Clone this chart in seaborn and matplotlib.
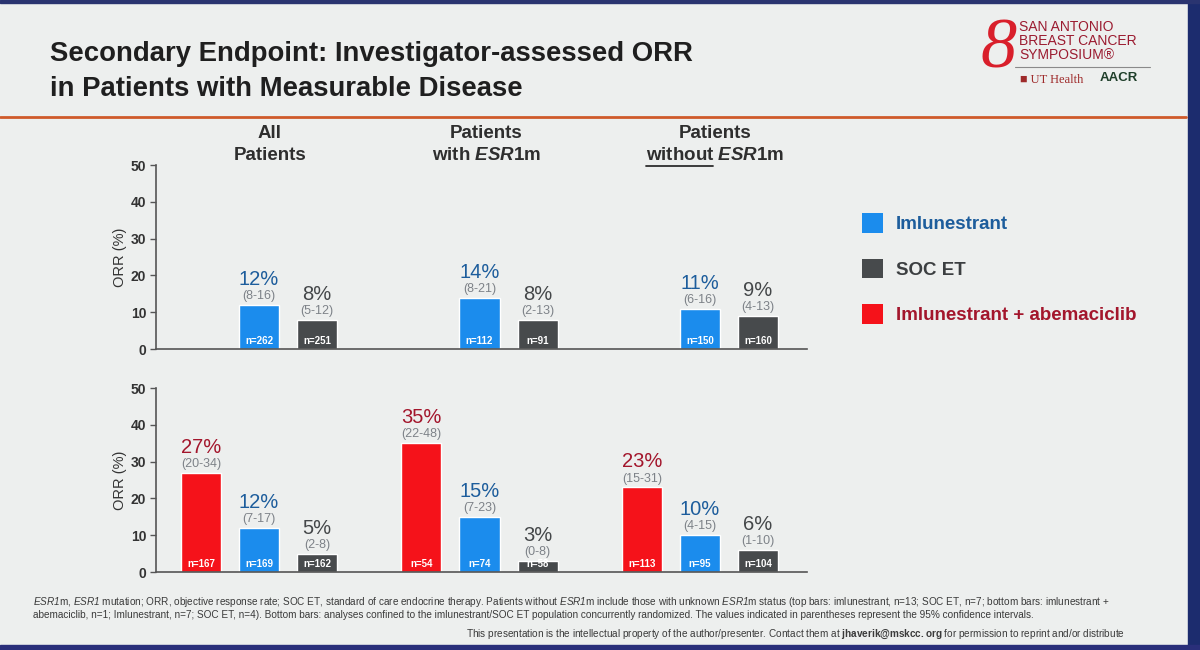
import numpy as np
import pandas as pd
import matplotlib.pyplot as plt
import matplotlib.transforms as mtransforms
import seaborn as sns
from matplotlib.patches import Patch, Rectangle
from matplotlib.colors import to_hex
from matplotlib.lines import Line2D

# ---- data ----
groups = ['All Patients', 'ESR1m', 'No ESR1m']
arms = ['Imlunestrant + abemaciclib', 'Imlunestrant', 'SOC ET']

top_group = ['All Patients', 'All Patients', 'ESR1m', 'ESR1m', 'No ESR1m', 'No ESR1m']
top_arm = ['Imlunestrant', 'SOC ET'] * 3
top_orr = [12, 8, 14, 8, 11, 9]
top_ci = ['(8-16)', '(5-12)', '(8-21)', '(2-13)', '(6-16)', '(4-13)']
top_n = [262, 251, 112, 91, 150, 160]

bot_group = ['All Patients'] * 3 + ['ESR1m'] * 3 + ['No ESR1m'] * 3
bot_arm = arms * 3
bot_orr = [27, 12, 5, 35, 15, 3, 23, 10, 6]
bot_ci = ['(20-34)', '(7-17)', '(2-8)', '(22-48)', '(7-23)', '(0-8)',
          '(15-31)', '(4-15)', '(1-10)']
bot_n = [167, 169, 162, 54, 74, 58, 113, 95, 104]

bar_colors = {'Imlunestrant + abemaciclib': '#f5121a', 'Imlunestrant': '#1b8ced',
              'SOC ET': '#474a4c'}
pct_colors = {'Imlunestrant + abemaciclib': '#a3162c', 'Imlunestrant': '#1d5d9c',
              'SOC ET': '#444749'}
ci_color = '#7d8288'
bg = '#edefee'

sns.set_style('white', {'axes.facecolor': bg, 'figure.facecolor': bg})
plt.rcParams['font.family'] = ['Liberation Sans', 'DejaVu Sans']
plt.rcParams['mathtext.fontset'] = 'custom'
plt.rcParams['mathtext.it'] = 'Liberation Sans:italic:bold'
plt.rcParams['mathtext.rm'] = 'Liberation Sans:bold'
plt.rcParams['mathtext.bf'] = 'Liberation Sans:bold'
plt.rcParams['mathtext.sf'] = 'Liberation Sans:italic'

top_df = pd.DataFrame({'group': top_group, 'arm': top_arm, 'orr': top_orr,
                       'ci': top_ci, 'n': top_n})
bot_df = pd.DataFrame({'group': bot_group, 'arm': bot_arm, 'orr': bot_orr,
                       'ci': bot_ci, 'n': bot_n})

fig = plt.figure(figsize=(12, 6.5), dpi=100)
ax_top = fig.add_axes([0.13, 0.463, 0.5425, 0.283])
ax_bot = fig.add_axes([0.13, 0.12, 0.5425, 0.283])

color_to_arm = {to_hex(c): a for a, c in bar_colors.items()}


def draw_panel(ax, df):
    sns.barplot(data=df, x='group', y='orr', hue='arm', order=groups, hue_order=arms,
                palette=bar_colors, width=0.79, gap=0.31, errorbar=None, saturation=1,
                legend=False, ax=ax)
    for cont in ax.containers:
        for bar in cont:
            arm = color_to_arm.get(to_hex(bar.get_facecolor()))
            xc = bar.get_x() + bar.get_width() / 2
            g = groups[int(round(xc))]
            row = df[(df.group == g) & (df.arm == arm)]
            if row.empty:
                continue
            row = row.iloc[0]
            h = bar.get_height()
            ax.annotate(row.ci, (xc, h), xytext=(0, 2), textcoords='offset points',
                        ha='center', va='bottom', fontsize=9, color=ci_color)
            ax.annotate(f'{row.orr}%', (xc, h), xytext=(0, 11.5), textcoords='offset points',
                        ha='center', va='bottom', fontsize=14.5, color=pct_colors[arm])
            ax.annotate(f'n={row.n}', (xc, 0), xytext=(0, 2), textcoords='offset points',
                        ha='center', va='bottom', fontsize=7, fontweight='bold', color='white')
    ax.set_xlim(-0.467, 2.485)
    ax.set_ylim(0, 50)
    ax.set_yticks([0, 10, 20, 30, 40, 50])
    ax.set_xticks([])
    ax.set_xlabel('')
    ax.set_ylabel('ORR (%)', fontsize=10.5, color='#333333', labelpad=3)
    for lab in ax.get_yticklabels():
        lab.set_fontweight('bold')
    ax.tick_params(axis='y', left=True, length=4, width=1, color='#555555',
                   labelsize=10, labelcolor='#333333', pad=3)
    sns.despine(ax=ax)
    for s in ['left', 'bottom']:
        ax.spines[s].set_color('#555555')
        ax.spines[s].set_linewidth(1.2)


draw_panel(ax_top, top_df)
draw_panel(ax_bot, bot_df)

# ---- group headers ----
hdr_kw = dict(fontsize=13.5, fontweight='bold', color='#2e2e2e', ha='center', va='center')
htr = mtransforms.blended_transform_factory(ax_top.transData, fig.transFigure)
fig.text(0.05, 1 - 133 / 650, 'All', transform=htr, **hdr_kw)
fig.text(0.05, 1 - 156 / 650, 'Patients', transform=htr, **hdr_kw)
fig.text(1.03, 1 - 133 / 650, 'Patients', transform=htr, **hdr_kw)
fig.text(1.03, 1 - 156 / 650, r'with $\mathit{ESR1}$m', transform=htr, **hdr_kw)
fig.text(2.07, 1 - 133 / 650, 'Patients', transform=htr, **hdr_kw)
full = fig.text(2.07, 1 - 156 / 650, r'without $\mathit{ESR1}$m', transform=htr, **hdr_kw)

# ---- legend ----
handles = [Patch(facecolor=bar_colors[a], edgecolor='none') for a in
           ['Imlunestrant', 'SOC ET', 'Imlunestrant + abemaciclib']]
fig.legend(handles, ['Imlunestrant', 'SOC ET', 'Imlunestrant + abemaciclib'],
           loc='upper left', bbox_to_anchor=(862 / 1200, 1 - 213 / 650), frameon=False,
           prop={'size': 13.5, 'weight': 'bold'}, handlelength=1.1, handleheight=1.25,
           handletextpad=0.7, labelspacing=1.35, borderpad=0, borderaxespad=0,
           labelcolor=[pct_colors['Imlunestrant'], '#3c3f41', pct_colors['Imlunestrant + abemaciclib']])

# ---- title, rule, logo ----
fig.text(50 / 1200, 1 - 54 / 650, 'Secondary Endpoint: Investigator-assessed ORR',
         fontsize=19.8, fontweight='bold', color='#1f1f1f', va='center')
fig.text(50 / 1200, 1 - 89 / 650, 'in Patients with Measurable Disease',
         fontsize=19.8, fontweight='bold', color='#1f1f1f', va='center')
fig.add_artist(Line2D([0, 1186 / 1200], [1 - 117 / 650] * 2, color='#cf5a2a', lw=2))

fig.text(999 / 1200, 1 - 50 / 650, '8', fontsize=52, color='#d91f2b', ha='center',
         va='center', fontstyle='italic', family=['Liberation Serif'])
logo_kw = dict(fontsize=10, color='#9b1b30', ha='left', va='center')
fig.text(1019 / 1200, 1 - 27 / 650, 'SAN ANTONIO', **logo_kw)
fig.text(1019 / 1200, 1 - 41 / 650, 'BREAST CANCER', **logo_kw)
fig.text(1019 / 1200, 1 - 55 / 650, 'SYMPOSIUM\u00ae', **logo_kw)
fig.add_artist(Line2D([1015 / 1200, 1150 / 1200], [1 - 67 / 650] * 2, color='#8a8a8a', lw=0.8))
fig.text(1020 / 1200, 1 - 80 / 650, '\u25a0 UT Health', fontsize=9, color='#9e2a2a',
         va='center', family=['Liberation Serif'])
fig.text(1100 / 1200, 1 - 78 / 650, 'AACR', fontsize=9.5, color='#1f3f2a', va='center',
         fontweight='bold')

# ---- footnotes ----
foot_kw = dict(fontsize=7.2, color='#3a3a3a', va='center', ha='left')
fig.text(33 / 1200, 1 - 602 / 650,
         r'$\mathsf{ESR1}$m, $\mathsf{ESR1}$ mutation; ORR, objective response rate; SOC ET, standard of care '
         r'endocrine therapy. Patients without $\mathsf{ESR1}$m include those with unknown $\mathsf{ESR1}$m '
         r'status (top bars: imlunestrant, n=13; SOC ET, n=7; bottom bars: imlunestrant +', **foot_kw)
fig.text(33 / 1200, 1 - 615 / 650,
         'abemaciclib, n=1; Imlunestrant, n=7; SOC ET, n=4). Bottom bars: analyses confined to the '
         'imlunestrant/SOC ET population concurrently randomized. The values indicated in parentheses '
         'represent the 95% confidence intervals.', **foot_kw)
fig.text(1125 / 1200, 1 - 634 / 650,
         r'This presentation is the intellectual property of the author/presenter. Contact them at '
         r'$\mathbf{jhaverik@mskcc.org}$ for permission to reprint and/or distribute',
         fontsize=7.2, color='#3a3a3a', va='center', ha='right')

# photo edges
fig.add_artist(Rectangle((1188 / 1200, 0), 12 / 1200, 1, transform=fig.transFigure,
                         color='#1c2c6e', zorder=-1))
fig.add_artist(Rectangle((0, 0), 1, 5 / 650, transform=fig.transFigure,
                         color='#2a2f7a', zorder=-1))
fig.add_artist(Rectangle((0, 1 - 3 / 650), 1, 3 / 650, transform=fig.transFigure,
                         color='#2a3470', zorder=-1))

# underline "without"
fig.canvas.draw()
r = fig.canvas.get_renderer()
bb = full.get_window_extent(r)
probe = fig.text(bb.x0 / 1200, 1 - 156 / 650, 'without', fontsize=13.5, fontweight='bold',
                 ha='left', va='center')
pb = probe.get_window_extent(r)
probe.remove()
fig.add_artist(Line2D([pb.x0 / 1200, pb.x1 / 1200], [(bb.y0 - 1) / 650] * 2,
                      color='#2e2e2e', lw=1.3))

fig.savefig('out.png', dpi=100, facecolor=bg)
